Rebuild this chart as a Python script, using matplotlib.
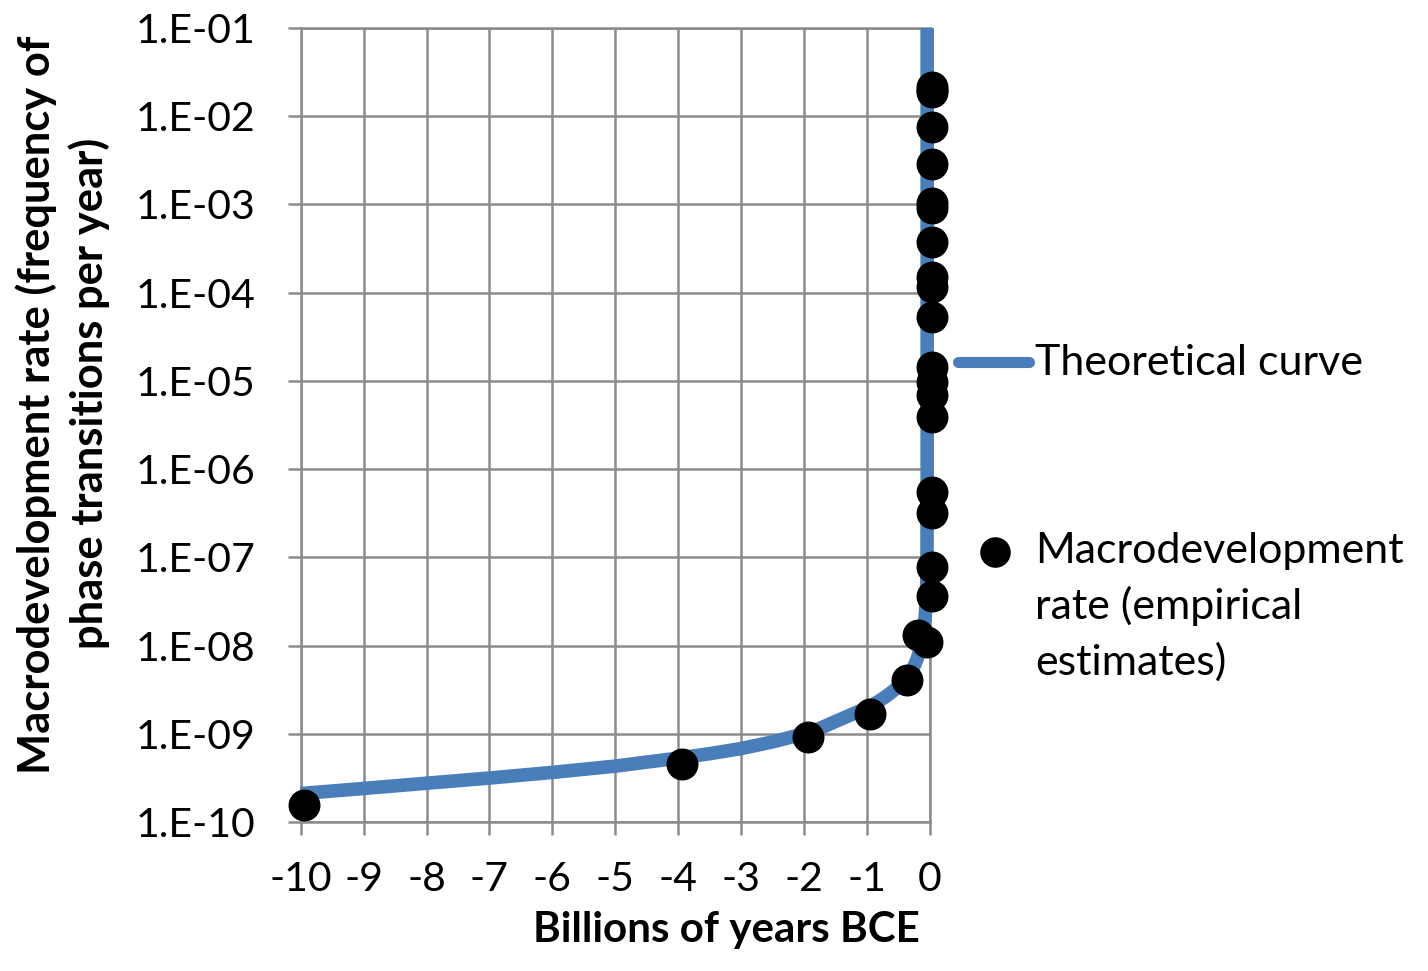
import matplotlib
matplotlib.use('Agg')
import matplotlib.pyplot as plt
from matplotlib.lines import Line2D
from matplotlib.ticker import NullLocator

# Theoretical curve
curve_x = [-10, -9, -8, -7, -6, -5, -4, -3.5, -3, -2.5, -2, -1.75, -1.5,
           -1.25, -1, -0.9, -0.79, -0.7, -0.6, -0.5, -0.365, -0.3, -0.25,
           -0.2, -0.16, -0.13, -0.1, -0.08, -0.065, -0.055, -0.048, -0.045,
           -0.045]
curve_y = [2.1e-10, 2.4e-10, 2.75e-10, 3.15e-10, 3.65e-10, 4.3e-10, 5.3e-10,
           5.95e-10, 6.8e-10, 8.1e-10, 1.0e-9, 1.15e-9, 1.38e-9, 1.65e-9,
           1.96e-9, 2.15e-9, 2.4e-9, 2.65e-9, 3.0e-9, 3.45e-9, 4.3e-9,
           5.0e-9, 5.9e-9, 7.2e-9, 8.9e-9, 1.1e-8, 1.5e-8, 2.0e-8, 2.8e-8,
           4.0e-8, 6.5e-8, 1e-6, 1e-1]

# Empirical estimates
emp_x = [-9.95, -3.94, -1.94, -0.95, -0.365, -0.19, -0.05,
         0.03, 0.03, 0.03, 0.03, 0.03, 0.03, 0.03, 0.03, 0.03, 0.03,
         0.03, 0.03, 0.03, 0.03, 0.03, 0.03, 0.03, 0.03, 0.03]
emp_y = [1.56e-10, 4.55e-10, 9.2e-10, 1.67e-9, 4.07e-9, 1.32e-8, 1.1e-8,
         3.6e-8, 7.8e-8, 3.2e-7, 5.5e-7, 3.9e-6, 6.9e-6, 9.7e-6, 1.44e-5,
         5.3e-5, 1.16e-4, 1.51e-4, 3.77e-4, 9.1e-4, 1.04e-3, 2.88e-3,
         7.6e-3, 1.89e-2, 2.15e-2, 2.0e-2]

x_ticks = [-10, -9, -8, -7, -6, -5, -4, -3, -2, -1, 0]
y_ticks = [1e-10, 1e-9, 1e-8, 1e-7, 1e-6, 1e-5, 1e-4, 1e-3, 1e-2, 1e-1]
y_tick_labels = ['1.E-10', '1.E-09', '1.E-08', '1.E-07', '1.E-06', '1.E-05',
                 '1.E-04', '1.E-03', '1.E-02', '1.E-01']

x_label = 'Billions of years BCE'
y_label_lines = ['Macrodevelopment rate (frequency of',
                 'phase transitions per year)']
legend_curve = 'Theoretical curve'
legend_emp_lines = ['Macrodevelopment', 'rate (empirical', 'estimates)']

BLUE = '#4A7EBB'
GRAY = '#8C8C8C'
W, H = 1428, 971

plt.rcParams['font.family'] = ['Lato', 'DejaVu Sans']

fig = plt.figure(figsize=(W / 100, H / 100), dpi=100)
ax = fig.add_axes([300.7 / W, 149 / H, 629.3 / W, 794 / H])
ax.set_yscale('log')
ax.set_xlim(-10, 0)
ax.set_ylim(1e-10, 1e-1)

ax.plot(curve_x, curve_y, color=BLUE, lw=9.8, solid_capstyle='butt',
        solid_joinstyle='round', zorder=3, clip_on=False)
ax.plot(emp_x, emp_y, 'o', color='black', ms=22, zorder=4, clip_on=False)

ax.set_xticks(x_ticks)
ax.set_xticklabels([str(v) for v in x_ticks])
ax.set_yticks(y_ticks)
ax.set_yticklabels(y_tick_labels)
ax.yaxis.set_minor_locator(NullLocator())
ax.xaxis.set_minor_locator(NullLocator())
ax.set_axisbelow(True)
ax.grid(True, color=GRAY, lw=1.8)
ax.tick_params(length=9.4, width=1.8, color=GRAY, labelsize=29.5,
               direction='out', labelcolor='black')
ax.tick_params(axis='y', pad=23)
ax.tick_params(axis='x', pad=19)
for s in ax.spines.values():
    s.set_color(GRAY)
    s.set_linewidth(1.8)

# axis titles
fig.text(726.5 / W, (H - 942) / H, x_label, ha='center', va='baseline',
         fontsize=30.3, fontweight='bold')
fig.text(50 / W, (H - 405) / H, y_label_lines[0], rotation=90,
         ha='center', va='baseline', fontsize=31.3, fontweight='bold',
         rotation_mode='anchor')
fig.text(103 / W, (H - 393) / H, y_label_lines[1], rotation=90,
         ha='center', va='baseline', fontsize=31.3, fontweight='bold',
         rotation_mode='anchor')

# legend
fig.add_artist(Line2D([958 / W, 1029 / W], [(H - 362) / H, (H - 362) / H],
                      transform=fig.transFigure, color=BLUE, lw=8,
                      solid_capstyle='round'))
fig.text(1035 / W, (H - 375) / H, legend_curve, ha='left', va='baseline',
         fontsize=31)
fig.add_artist(Line2D([995 / W], [(H - 552) / H], transform=fig.transFigure,
                      marker='o', color='black', ms=21, lw=0))
for i, line in enumerate(legend_emp_lines):
    fig.text(1035 / W, (H - 563 - 56 * i) / H, line, ha='left',
             va='baseline', fontsize=31)

fig.savefig('out.png', dpi=100)
